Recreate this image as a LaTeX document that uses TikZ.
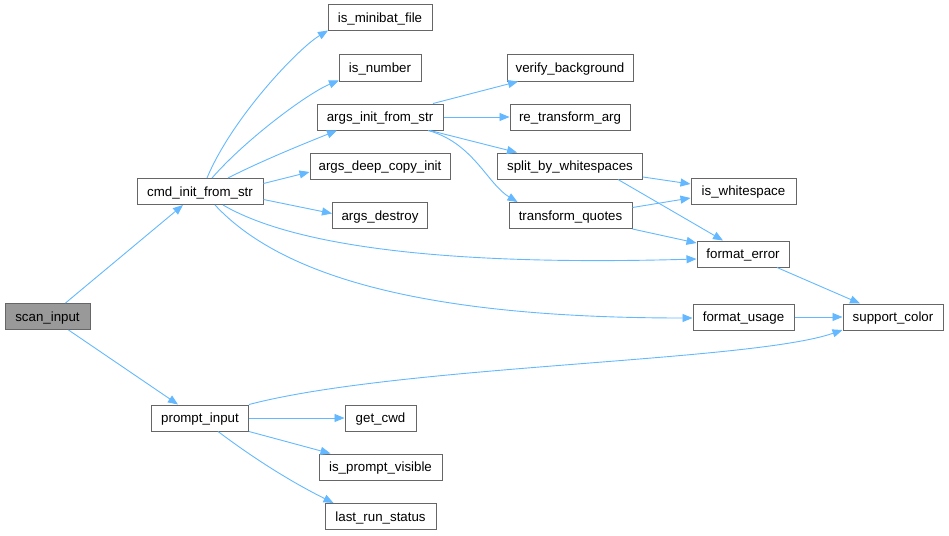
\documentclass[tikz,border=0pt]{standalone}
\usepackage{fontspec}
\setmainfont{Liberation Sans}
\usetikzlibrary{arrows.meta}
\definecolor{edgeblue}{HTML}{63B8FF}
\definecolor{boxgray}{HTML}{666666}
\definecolor{rootfill}{HTML}{999999}
\tikzset{
  fn/.style={draw=boxgray, line width=1pt, fill=white, rectangle, inner xsep=0pt, inner ysep=0pt,
    minimum height=26pt, text height=9.5pt, text depth=0pt, font=\fontsize{13.3}{16}\selectfont, text=black},
  rootfn/.style={fn, fill=rootfill},
  call/.style={draw=edgeblue, line width=0.9pt, -{Triangle[length=10pt,width=8pt]}},
}
\begin{document}
\begin{tikzpicture}[x=1pt,y=-1pt]
\useasboundingbox (0,0) rectangle (949,535);
% nodes
\node[rootfn, minimum width=85pt] (scan) at (47.5,316.5) {scan\_input};
\node[fn, minimum width=126pt] (cmd) at (200,191.5) {cmd\_init\_from\_str};
\node[fn, minimum width=97pt] (prompt) at (200,418) {prompt\_input};
\node[fn, minimum width=104pt] (minibat) at (380,18) {is\_minibat\_file};
\node[fn, minimum width=82pt] (isnum) at (380,68) {is\_number};
\node[fn, minimum width=126pt] (argsinit) at (380,117) {args\_init\_from\_str};
\node[fn, minimum width=140pt] (deepcopy) at (380,166) {args\_deep\_copy\_init};
\node[fn, minimum width=95pt] (destroy) at (380,215.5) {args\_destroy};
\node[fn, minimum width=126pt] (verify) at (570,68) {verify\_background};
\node[fn, minimum width=120pt] (retrans) at (570,117) {re\_transform\_arg};
\node[fn, minimum width=145pt] (split) at (570,166) {split\_by\_whitespaces};
\node[fn, minimum width=123pt] (tquotes) at (570.5,215.5) {transform\_quotes};
\node[fn, minimum width=105pt] (isws) at (743.5,191) {is\_whitespace};
\node[fn, minimum width=92pt] (ferr) at (743,254) {format\_error};
\node[fn, minimum width=101pt] (fusage) at (743.5,317) {format\_usage};
\node[fn, minimum width=100pt] (scolor) at (893,317) {support\_color};
\node[fn, minimum width=71pt] (cwd) at (380.5,418) {get\_cwd};
\node[fn, minimum width=123pt] (pvis) at (380.5,467) {is\_prompt\_visible};
\node[fn, minimum width=111pt] (lrs) at (380.5,516.5) {last\_run\_status};
% edges
\draw[call] ([xshift=18pt]scan.north) -- ([xshift=-17pt]cmd.south);
\draw[call] ([xshift=21pt]scan.south) -- ([xshift=-22pt]prompt.north);
\draw[call] ([xshift=7pt]cmd.north) .. controls +(25,-60) and +(-30,18) .. ([xshift=-52pt,yshift=1pt]minibat.south);
\draw[call] ([xshift=12pt]cmd.north) .. controls +(35,-40) and +(-30,12) .. ([xshift=-41pt,yshift=1pt]isnum.south);
\draw[call] ([xshift=28pt]cmd.north) .. controls +(35,-18) and +(-25,10) .. ([xshift=-43pt]argsinit.south);
\draw[call] ([yshift=8pt]cmd.east) -- ([yshift=-6pt]deepcopy.west);
\draw[call] ([yshift=-8pt]cmd.east) -- ([yshift=2pt]destroy.west);
\draw[call] ([xshift=23pt]cmd.south) .. controls (295,247) and (450,266) .. ([yshift=-5pt]ferr.west);
\draw[call] ([xshift=15pt]cmd.south) .. controls (280,275) and (420,318) .. ([yshift=-1pt]fusage.west);
\draw[call] ([xshift=53pt]argsinit.north) -- ([xshift=-52pt]verify.south);
\draw[call] (argsinit.east) -- (retrans.west);
\draw[call] ([xshift=50pt]argsinit.south) -- ([xshift=-53pt]split.north);
\draw[call] ([xshift=48pt]argsinit.south) .. controls +(45,12) and +(-30,-18) .. ([xshift=-53pt]tquotes.north);
\draw[call] ([yshift=-11pt]split.east) -- ([yshift=7pt]isws.west);
\draw[call] ([xshift=48pt]split.south) -- ([xshift=-20pt]ferr.north);
\draw[call] ([yshift=8pt]tquotes.east) -- ([yshift=-7pt]isws.west);
\draw[call] (tquotes.south east) -- ([yshift=11pt]ferr.west);
\draw[call] ([xshift=34pt]ferr.south) -- ([xshift=-33pt]scolor.north);
\draw[call] (fusage.east) -- (scolor.west);
\draw[call] (prompt.north east) .. controls (400,365) and (750,362) .. ([yshift=-13pt]scolor.west);
\draw[call] (prompt.east) -- (cwd.west);
\draw[call] (prompt.south east) -- ([xshift=-50pt]pvis.north);
\draw[call] ([xshift=18pt]prompt.south) .. controls +(40,30) and +(-40,-20) .. ([xshift=-47pt]lrs.north);
\end{tikzpicture}
\end{document}
